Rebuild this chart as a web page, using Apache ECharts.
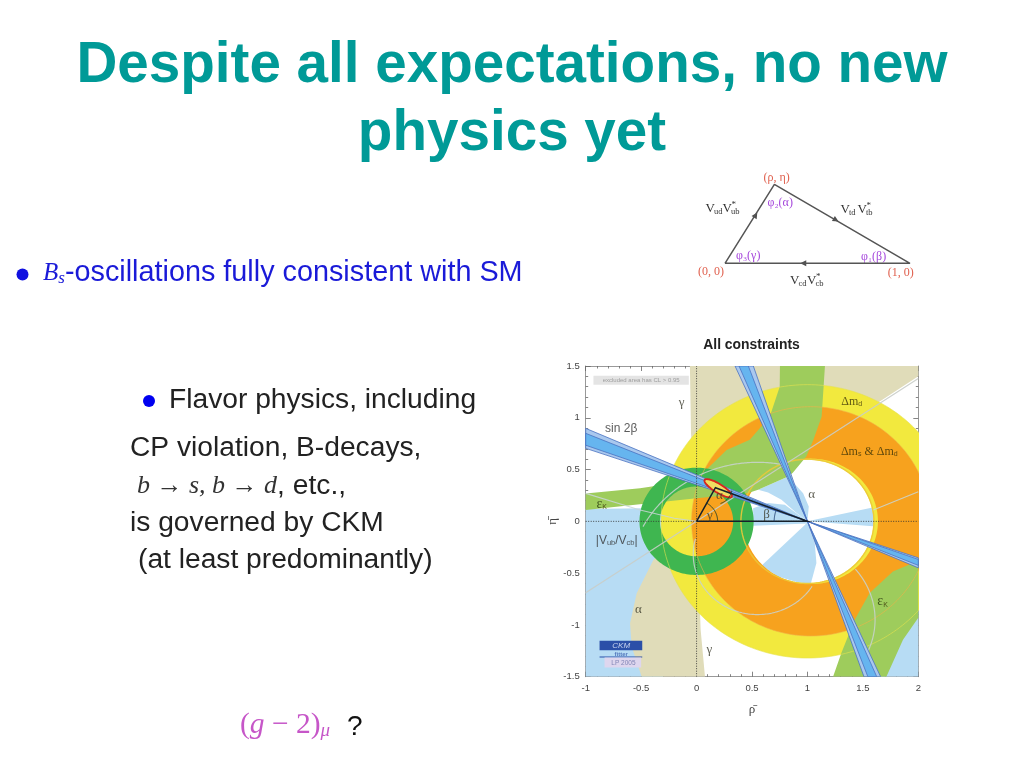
<!DOCTYPE html>
<html><head><meta charset="utf-8">
<style>html,body{margin:0;padding:0;background:#fff}#c{width:1024px;height:768px;filter:blur(0.45px)}</style>
<script src="https://cdn.jsdelivr.net/npm/echarts@6/dist/echarts.min.js"></script></head>
<body><div id="c"></div>
<script>
// --- Axis ticks
const rhoRange = [-1, 2];
const etaRange = [-1.5, 1.5];
// --- Constraint regions, as [rho, eta]
const vubLeft = [[-1,.12],[-.3,.13],[0,0],[-.3,-.6],[-.3,-1.5],[-1,-1.5]];
const alphaUpper = [[1,0],[1.012,.143],[.961,.272],[.826,.433],[.555,.304],[.645,.279],[.766,.208],[.886,.095]];
const alphaBeta = [[1,0],[.796,.16],[.645,.176],[.51,.127],[.51,-.043],[1,-.02]];
const alphaLower = [[1,-.01],[.585,-.429],[.735,-.532],[.916,-.59],[1.03,-.603],[1.081,-.403],[1.066,-.21]];
const alphaRight = [[1,0],[1.62,.14],[1.62,-.05]];
const alphaFar = [[2,-.85],[1.78,-1.1],[1.65,-1.5],[2,-1.5]];
const gammaUpper = [[-.06,1.5],[-.05,.85],[0,0],[2,1.4],[2,1.5]];
const gammaLower = [[0,0],[-.39,-.373],[-.54,-.695],[-.6,-.985],[-.585,-1.21],[-.495,-1.5],[.076,-1.5],[.037,-1.05]];
const epsUpper = [[-1,.27],[-.51,.319],[-.21,.367],[.09,.5],[.271,.689],[.48,.787],[.66,1.01],[.75,1.3],[.752,1.5],[1.158,1.5],[1.128,1.01],[1.053,.785],[.99,.625],[.868,.47],[.826,.433],[.555,.304],[.452,.27],[0,.222],[-1,.11]];
const epsLower = [[1.231,-1.5],[1.306,-1.272],[1.426,-.951],[1.561,-.693],[1.771,-.484],[2,-.38],[2,-.93],[1.862,-1.144],[1.712,-1.5]];
// rings: centre rho, centre eta, outer radii, inner radii
const ringDmd = [1, 0, 1.32, 1.32, .595, .595];
const ringDms = [1.03, 0, 1.075, 1.107, .606, .606];
const ringVub = [0, 0, .515, .518, .33, .337];
// sin 2beta and steep wedges through (1,0)
const sinOuterL = [[-1,.898],[-1,.705],[1,0]];
const sinOuterR = [[2,-.449],[2,-.3525],[1,0]];
const sinInnerL = [[-1,.85],[-1,.735],[1,0]];
const sinInnerR = [[2,-.425],[2,-.3675],[1,0]];
const steepOuterT = [[.347,1.5],[.512,1.5],[1,0]];
const steepOuterB = [[1.51,-1.5],[1.66,-1.5],[1,0]];
const steepInnerT = [[.383,1.5],[.467,1.5],[1,0]];
const steepInnerB = [[1.545,-1.5],[1.625,-1.5],[1,0]];
// thin contour lines
const gammaLine = [[-1,-.69],[0,0],[2,1.38]];
const grayLeft = [[-1,.27],[-.51,.11],[-.2,.03],[0,0]];
const grayRight = [[1.594,.109],[2,.286]];
// arcs: centre rho, centre eta, rx, ry, start deg, end deg
const grayArcs = [[.55,-.6,1.17,1.17,76,152],[.55,-.32,.58,.58,-195,-32],[.85,-.95,.76,.76,-25,40]];
const contourDmd = [1,0,1.32,1.32,-180,180];
const contourDms = [1.03,0,1.075,1.107,-180,180];
const contourHole = [1,0,.6,.6,-180,180];
// best fit triangle and angle marks
const triangleUT = [[0,0],[.17,.325],[1,0],[0,0]];
const angleArcs = [[0,0,.19,.2,0,62],[1,0,.3,.32,158,180],[.17,.325,.15,.16,-72,-10]];
const fitEllipse = [.195,.32,.12,-.059,-.03,.065];
const axisH = [[-1,0],[2,0]];
const axisV = [[0,-1.5],[0,1.5]];
// legend boxes
const clBox = [[-.93,1.405],[-.07,1.405],[-.07,1.32],[-.93,1.32]];
const logoBlue = [[-.875,-1.152],[-.49,-1.152],[-.49,-1.245],[-.875,-1.245]];
const logoBlueLine = [[-.875,-1.31],[-.49,-1.31]];
const logoPale = [[-.83,-1.315],[-.5,-1.315],[-.5,-1.41],[-.83,-1.41]];
// plot labels
const labelRho = [-.134,-.68,1.40,1.558,1.038,.632,-.856,-.72,-.525,.115,1.678,.205,.12];
const labelEta = [1.146,.898,1.155,.673,.254,.07,.167,-.187,-.85,-1.236,-.776,.245,.058];
const labelText = ['γ','{n|sin 2β}','{g|Δm}{gs|d}','{g|Δm}{gs|s}{g| & Δm}{gs|d}','α','β','{e|ε}{gs|K}','{t|\u007cV}{ts|ub}{t|/V}{ts|cb}{t|\u007c}','α','γ','{e|ε}{gs|K}','α','γ'];
const boxLabelRho = [-.5,-.68,-.68,-.66];
const boxLabelEta = [1.362,-1.2,-1.285,-1.365];
const boxLabelText = ['excluded area has CL > 0.95','CKM','fitter','LP 2005'];
// small unitarity triangle
const utVertices = [[0,0],[.267,.427],[1,0],[0,0]];
const utArrows = [[.166,.261],[.6,.234],[.423,0]];
const utArrowAngle = [-32,-120,90];

function rad(d){return d*Math.PI/180;}
function arcPts(a,n){const p=[];n=n||120;for(let i=0;i<=n;i++){const t=rad(a[4]+(a[5]-a[4])*i/n);p.push([a[0]+a[2]*Math.cos(t),a[1]+a[3]*Math.sin(t)]);}return p;}
function ringPts(r){const o=arcPts([r[0],r[1],r[2],r[3],0,360],180),h=arcPts([r[0],r[1],r[4],r[5],360,0],180);return o.concat(h);}
function ellipsePts(e){const p=[];for(let i=0;i<=72;i++){const t=rad(i*5);p.push([e[0]+e[2]*Math.cos(t)+e[4]*Math.sin(t),e[1]+e[3]*Math.cos(t)+e[5]*Math.sin(t)]);}return p;}

const LB='#b7dcf4',TAN='#e0dcb9',YEL='#f2e93e',ORG='#f7a21e',LG='#9ecc5c',DG='#3fb650',BO='#a9c8ee',BI='#66b5ef',BE='#4a72c2';
function poly(pts,fill,extra){return Object.assign({type:'polygon',pts,style:{fill}},extra||{});}
function band(pts,fill){return {type:'polygon',pts,style:{fill,stroke:BE,lineWidth:.8}};}
function line(pts,stroke,w,op,dash){return {type:'polyline',pts,style:{fill:null,stroke,lineWidth:w,opacity:op==null?1:op,lineDash:dash||null}};}

function layer(name,shapes,xi,yi){return {type:'custom',name,coordinateSystem:'cartesian2d',xAxisIndex:xi||0,yAxisIndex:yi||0,clip:true,silent:true,
  data:shapes.map((_,i)=>[i]),encode:{x:[],y:[]},
  renderItem(p,api){const s=shapes[api.value(0)];return {type:s.type,shape:{points:s.pts.map(c=>api.coord(c))},style:s.style};}};}

const series=[
 layer('alpha and Vub',[vubLeft,alphaUpper,alphaBeta,alphaLower,alphaRight,alphaFar].map(p=>poly(p,LB))),
 layer('gamma',[gammaUpper,gammaLower].map(p=>poly(p,TAN))),
 layer('dmd',[poly(ringPts(ringDmd),YEL)]),
 layer('dms',[poly(ringPts(ringDms),ORG)]),
 layer('epsK',[epsUpper,epsLower].map(p=>poly(p,LG))),
 layer('Vub/Vcb',[poly(ringPts(ringVub),DG)]),
 layer('contours',[line(arcPts(contourDmd,240),'#e6e24e',1,.6),line(arcPts(contourDms,240),'#f2b24a',1,.6),line(arcPts(contourHole,200),'#ecc838',1.4,.9),
   line(gammaLine,'#c9cdc8',1.2,.9),line(grayLeft,'#c9d6d6',1.1,.85),line(grayRight,'#c9d6d6',1.1,.85)].concat(grayArcs.map(a=>line(arcPts(a),'#c8d2d0',1.2,.85)))),
 layer('sin2beta',[band(sinOuterL,BO),band(sinOuterR,BO),band(sinInnerL,BI),band(sinInnerR,BI)]),
 layer('steep',[band(steepOuterT,BO),band(steepOuterB,BO),band(steepInnerT,BI),band(steepInnerB,BI)]),
 layer('frame lines',[line(axisH,'#333',.9,1,[1,1.5]),line(axisV,'#333',.9,1,[1,1.5])]),
 layer('fit',[poly(ellipsePts(fitEllipse),'#efdd62',{}),
   {type:'polyline',pts:ellipsePts(fitEllipse),style:{fill:null,stroke:'#d8261c',lineWidth:1.9}},
   line(triangleUT,'#16202a',1.5),line(arcPts(angleArcs[0],40),'#1a3a2a',.9),line(arcPts(angleArcs[1],20),'#1f3f70',.9),line(arcPts(angleArcs[2],30),'#1a3a2a',.9)]),
 layer('boxes',[poly(clBox,'#e4e4e4'),poly(logoBlue,'#2b4fa8'),line(logoBlueLine,'#2b4fa8',1.2),poly(logoPale,'#ded6ee')]),
 {type:'scatter',name:'plot labels',silent:true,symbolSize:0,xAxisIndex:0,yAxisIndex:0,
  data:labelText.map((t,i)=>({value:[labelRho[i],labelEta[i]],label:{show:true,position:'inside',formatter:t,
    fontFamily:'Liberation Serif',fontSize:13,color:'#3a3a2a',
    rich:{n:{fontFamily:'Liberation Sans',fontSize:12,color:'#333'},
          e:{fontFamily:'Liberation Serif',fontSize:14,color:'#2a3a10'},
          g:{fontFamily:'Liberation Serif',fontSize:12,color:'#3a3208'},gs:{fontFamily:'Liberation Sans',fontSize:7,color:'#3a3208',verticalAlign:'bottom',padding:[5,0,0,0]},
          t:{fontFamily:'Liberation Sans',fontSize:12,color:'#333'},ts:{fontFamily:'Liberation Sans',fontSize:7.5,color:'#333',verticalAlign:'bottom',padding:[5,0,0,0]}}}}))},
 {type:'scatter',name:'box labels',silent:true,symbolSize:0,xAxisIndex:0,yAxisIndex:0,
  data:boxLabelText.map((t,i)=>({value:[boxLabelRho[i],boxLabelEta[i]],label:{show:true,position:'inside',formatter:t,
    fontFamily:'Liberation Sans',fontSize:[6,8,6,6.5][i],fontStyle:i==1?'italic':'normal',fontWeight:i==2?'bold':'normal',color:['#8c8c8c','#e8eefc','#3b5fb0','#6a70a8'][i]}}))},
 // small triangle
 {type:'line',name:'unitarity triangle',xAxisIndex:2,yAxisIndex:2,silent:true,symbol:'none',data:utVertices,lineStyle:{color:'#555',width:1.5},animation:false},
 {type:'scatter',name:'triangle arrows',xAxisIndex:2,yAxisIndex:2,silent:true,symbol:'triangle',symbolSize:[6,6],itemStyle:{color:'#222'},
  data:utArrows.map((v,i)=>({value:v,symbolRotate:utArrowAngle[i]}))}
];

const tickStyle={color:'#666',width:.8};
function xAx(pos,main){return {type:'value',gridIndex:0,position:pos,min:rhoRange[0],max:rhoRange[1],interval:.5,
  axisLine:{show:true,onZero:false,lineStyle:{color:'#999',width:1}},axisTick:{show:true,inside:true,length:5,lineStyle:tickStyle},
  minorTick:{show:true,splitNumber:5,length:2.5,lineStyle:tickStyle},splitLine:{show:false},
  axisLabel:{show:main,fontFamily:'Liberation Sans',fontSize:9.5,color:'#444',margin:7,showMinLabel:true,showMaxLabel:true},
  name:main?'ρ\u0304':'',nameLocation:'middle',nameGap:26,nameTextStyle:{fontFamily:'Liberation Serif',fontSize:13,color:'#444'}};}
function yAx(pos,main){return {type:'value',gridIndex:0,position:pos,min:etaRange[0],max:etaRange[1],interval:.5,
  axisLine:{show:true,onZero:false,lineStyle:{color:'#999',width:1}},axisTick:{show:true,inside:true,length:5,lineStyle:tickStyle},
  minorTick:{show:true,splitNumber:5,length:2.5,lineStyle:tickStyle},splitLine:{show:false},
  axisLabel:{show:main,fontFamily:'Liberation Sans',fontSize:9.5,color:'#444',margin:6,showMinLabel:true,showMaxLabel:true},
  name:main?'η\u0304':'',nameLocation:'middle',nameGap:27,nameRotate:90,nameTextStyle:{fontFamily:'Liberation Serif',fontSize:13,color:'#444'}};}

function txt(x,y,text,o){o=o||{};return {type:'text',x,y,silent:true,style:Object.assign({text,textAlign:o.align||'left',textVerticalAlign:'middle',textBaseline:'middle',
  fontFamily:'Liberation Sans',fontSize:28.2,fill:'#222'},o.style||{})};}
const serif={fontFamily:'Liberation Serif'};
const RED='#e0604e',PUR='#a648dc',VC='#333';
function vv(x,y,a,b){
  return [txt(x,y,'V',{style:Object.assign({},serif,{fontSize:13,fill:VC})}),
          txt(x+8.5,y+3,a,{style:Object.assign({},serif,{fontSize:8.5,fill:VC})}),
          txt(x+17,y,'V',{style:Object.assign({},serif,{fontSize:13,fill:VC})}),
          txt(x+25.5,y+3,b,{style:Object.assign({},serif,{fontSize:8.5,fill:VC})}),
          txt(x+26,y-4.5,'*',{style:Object.assign({},serif,{fontSize:9,fill:VC})})];}
const graphic=[
  {type:'circle',silent:true,shape:{cx:22.5,cy:274.5,r:6},style:{fill:'#1010e0'}},
  {type:'circle',silent:true,shape:{cx:149,cy:401,r:6},style:{fill:'#0000f0'}},
  {type:'text',x:43,y:273,silent:true,style:{text:'{i|B}{s|s}{r|-oscillations fully consistent with SM}',rich:{
     i:{fontFamily:'Liberation Serif',fontStyle:'italic',fontSize:25,fill:'#1a1ad8',color:'#1a1ad8'},
     s:{fontFamily:'Liberation Serif',fontStyle:'italic',fontSize:17,color:'#1a1ad8',fill:'#1a1ad8',verticalAlign:'bottom',padding:[8,0,0,0]},
     r:{fontFamily:'Liberation Sans',fontSize:28.8,fill:'#1a1ad8',color:'#1a1ad8'}},verticalAlign:'middle'}},
  txt(169,400,'Flavor physics, including'),
  txt(130,448,'CP violation, B-decays,'),
  {type:'text',x:137,y:486,silent:true,style:{text:'{i|b → s, b → d}{r|, etc.,}',rich:{
     i:{fontFamily:'Liberation Serif',fontStyle:'italic',fontSize:26,color:'#333',fill:'#333'},
     r:{fontFamily:'Liberation Sans',fontSize:28.2,color:'#222',fill:'#222'}},verticalAlign:'middle'}},
  txt(130,523,'is governed by CKM'),
  txt(138,560,'(at least predominantly)'),
  {type:'text',x:240,y:725,silent:true,style:{text:'{u|(}{i|g}{u| − 2)}{s|μ}',rich:{
     u:{fontFamily:'Liberation Serif',fontSize:29.5,color:'#c656c8',fill:'#c656c8'},
     i:{fontFamily:'Liberation Serif',fontStyle:'italic',fontSize:29.5,color:'#c656c8',fill:'#c656c8'},
     s:{fontFamily:'Liberation Serif',fontStyle:'italic',fontSize:19,color:'#c656c8',fill:'#c656c8',verticalAlign:'bottom',padding:[8,0,0,0]}},verticalAlign:'middle'}},
  txt(347,727,'?',{style:{fontSize:28,fill:'#111'}}),
  txt(751.5,345,'All constraints',{align:'center',style:{fontSize:13.9,fontWeight:'bold',fill:'#222'}}),
  txt(776.7,178,'(ρ, η)',{align:'center',style:Object.assign({},serif,{fontSize:12,fill:RED})}),
  txt(711,272,'(0, 0)',{align:'center',style:Object.assign({},serif,{fontSize:12,fill:RED})}),
  txt(900.7,272.5,'(1, 0)',{align:'center',style:Object.assign({},serif,{fontSize:12,fill:RED})}),
  txt(767.5,202.5,'φ₂(α)',{style:Object.assign({},serif,{fontSize:12,fill:PUR})}),
  txt(736,256,'φ₃(γ)',{style:Object.assign({},serif,{fontSize:12,fill:PUR})}),
  txt(861,257,'φ₁(β)',{style:Object.assign({},serif,{fontSize:12,fill:PUR})})
].concat(vv(705.5,209,'ud','ub'),vv(840.5,210,'td','tb'),vv(790,281,'cd','cb'));

const titleStyle={fontFamily:'Liberation Sans',fontWeight:'bold',fontSize:56.6,color:'#009a97'};
const option={animation:false,backgroundColor:'#fff',
 title:[{text:'Despite all expectations, no new',left:'center',top:33,textStyle:titleStyle},
        {text:'physics yet',left:'center',top:101,textStyle:titleStyle}],
 grid:[{left:585.7,right:105.7,top:366,bottom:91.3,show:false},
       {left:725,width:185,top:184.3,height:79,show:false}],
 xAxis:[xAx('bottom',true),xAx('top',false),{type:'value',gridIndex:1,show:false,min:0,max:1}],
 yAxis:[yAx('left',true),yAx('right',false),{type:'value',gridIndex:1,show:false,min:0,max:.427}],
 series,graphic};
const chart=echarts.init(document.getElementById('c'));
chart.setOption(option);
</script></body></html>
